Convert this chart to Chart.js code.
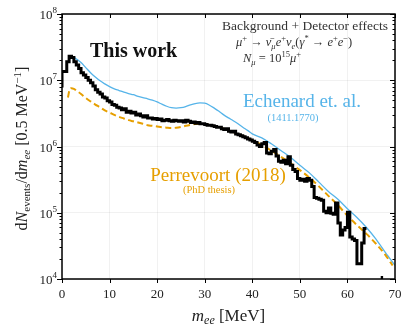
<!DOCTYPE html>
<html>
<head>
<meta charset="utf-8">
<script src="https://cdn.jsdelivr.net/npm/chart.js@4"></script>
<style>
  html, body { margin: 0; padding: 0; background: #fff; }
  #wrap { width: 412px; height: 333px; }
</style>
</head>
<body>
<div id="wrap"><canvas id="chart" width="412" height="333"></canvas></div>
<script>
// m_ee spectrum, dN/dm_ee per 0.5 MeV bin
const binWidth = 0.5;
const binStart = 0;

// "This work" histogram, one value per 0.5 MeV bin from 0 to 70 MeV
const thisWork = [
  7.8e6, 1.35e7, 1.35e7, 1.9e7, 2.3e7, 2.2e7, 1.9e7, 1.7e7, 1.5e7, 1.3e7,
  1.2e7, 1.1e7, 1.0e7, 9.2e6, 8.2e6, 7.2e6, 6.6e6, 6.2e6, 5.6e6, 5.4e6,
  4.9e6, 4.7e6, 4.3e6, 4.2e6, 3.9e6, 3.8e6, 3.6e6, 3.7e6, 3.3e6, 3.4e6,
  3.2e6, 3.3e6, 3.0e6, 3.1e6, 2.9e6, 2.8e6, 2.9e6, 2.7e6, 2.7e6, 2.6e6,
  2.65e6, 2.55e6, 2.6e6, 2.45e6, 2.5e6, 2.55e6, 2.45e6, 2.4e6, 2.5e6, 2.45e6,
  2.4e6, 2.45e6, 2.35e6, 2.5e6, 2.4e6, 2.3e6, 2.35e6, 2.25e6, 2.3e6, 2.2e6,
  2.2e6, 2.15e6, 2.1e6, 2.1e6, 2.05e6, 2.0e6, 1.95e6, 1.95e6, 1.85e6, 1.8e6,
  1.85e6, 1.7e6, 1.65e6, 1.7e6, 1.55e6, 1.5e6, 1.45e6, 1.4e6, 1.35e6, 1.3e6,
  1.25e6, 1.2e6, 1.15e6, 1.05e6, 1.0e6, 1.1e6, 1.15e6, 8.0e5, 7.8e5, 8.5e5,
  9.0e5, 7.2e5, 6.0e5, 5.8e5, 6.2e5, 5.5e5, 7.0e5, 5.2e5, 4.5e5, 4.2e5,
  3.3e5, 3.1e5, 3.2e5, 3.0e5, 3.3e5, 3.1e5, 2.5e5, 1.7e5, 1.65e5, 1.6e5,
  1.55e5, 1.05e5, 1.0e5, 1.18e5, 9.8e4, 9.5e4, 1.4e5, 7.0e4, 4.6e4, 5.5e4,
  6.0e4, 1.02e5, 4.3e4, 4.0e4, 3.8e4, 1.7e4, 1.7e4, 3.5e4, 5.8e4, 0,
  0, 0, 0, 0, 1.05e4, 1.05e4, 0, 0, 0, 0
];

// Echenard et. al. (1411.1770)
const echenardMass = [2.2, 3, 4, 5, 6, 7, 8, 9, 10, 11, 12, 13, 14, 15, 16, 17, 18, 19, 20,
  21, 22, 23, 24, 25, 26, 27, 28, 29, 30, 31, 32, 33, 34, 35, 36, 37, 38, 39, 40,
  42, 44, 46, 48, 50, 52, 54, 56, 58, 60, 62, 64, 66, 68, 70];
const echenardRate = [2.3e7, 2.1e7, 1.85e7, 1.55e7, 1.3e7, 1.12e7, 9.8e6, 8.8e6, 8.0e6, 7.4e6,
  7.0e6, 6.6e6, 6.3e6, 6.05e6, 5.7e6, 5.45e6, 5.25e6, 5.0e6, 4.7e6,
  4.35e6, 4.05e6, 3.85e6, 3.8e6, 3.85e6, 4.0e6, 4.25e6, 4.45e6, 4.55e6, 4.5e6, 4.2e6,
  3.8e6, 3.4e6, 3.0e6, 2.7e6, 2.45e6, 2.2e6, 1.95e6, 1.75e6, 1.55e6,
  1.35e6, 1.1e6, 8.7e5, 6.9e5, 5.2e5, 4.0e5, 2.9e5, 2.1e5, 1.6e5, 1.15e5, 8.5e4, 6.0e4, 4.0e4, 2.5e4, 1.6e4];

// Perrevoort (2018), PhD thesis
const perrevoortMass = [1.2, 1.25, 1.6, 2.0, 2.5, 3, 4, 5, 6, 7, 8, 9, 10, 11, 12, 13, 14, 15, 16,
  17, 18, 19, 20, 21, 22, 23, 24, 25, 26, 27, 28, 29, 30, 31, 32, 33, 34, 35, 36,
  37, 38, 40, 42, 44, 46, 48, 50, 52, 54, 56, 58, 60, 62, 64, 66, 68, 69.5];
const perrevoortRate = [0, 5.5e6, 7.2e6, 7.6e6, 7.4e6, 7.0e6, 6.2e6, 5.4e6, 4.8e6, 4.3e6, 3.9e6,
  3.5e6, 3.25e6, 3.0e6, 2.8e6, 2.65e6, 2.5e6, 2.4e6, 2.3e6, 2.2e6, 2.1e6, 2.05e6, 2.0e6,
  1.95e6, 1.92e6, 1.9e6, 1.92e6, 1.97e6, 2.05e6, 2.12e6, 2.18e6, 2.2e6, 2.18e6, 2.12e6,
  2.03e6, 1.95e6, 1.85e6, 1.75e6, 1.65e6, 1.55e6, 1.45e6, 1.25e6, 1.05e6, 8.7e5, 7.0e5,
  5.6e5, 4.4e5, 3.4e5, 2.5e5, 1.8e5, 1.3e5, 9.0e4, 6.5e4, 4.8e4, 3.4e4, 2.3e4, 1.6e4];

// axis ticks
const xTicks = [0, 10, 20, 30, 40, 50, 60, 70];
const yTicks = [1e4, 1e5, 1e6, 1e7, 1e8];
const yTickExp = ["4", "5", "6", "7", "8"];

const BLUE = "#56B4E9";
const ORANGE = "#E69F00";
const SERIF = '"Liberation Serif", "DejaVu Serif", serif';

// histogram -> step points at bin edges
const histPoints = [{ x: binStart, y: 0 }];
thisWork.forEach((v, i) => histPoints.push({ x: binStart + i * binWidth, y: v }));
histPoints.push({ x: binStart + thisWork.length * binWidth, y: thisWork[thisWork.length - 1] });

// draw runs of text with different fonts / offsets
function drawRuns(ctx, runs, x, y, align) {
  let w = 0;
  runs.forEach((r) => {
    ctx.font = r.font;
    r.w = ctx.measureText(r.t).width;
    w += r.w;
  });
  let cx = align === "center" ? x - w / 2 : align === "right" ? x - w : x;
  runs.forEach((r) => {
    ctx.font = r.font;
    ctx.fillText(r.t, cx, y + (r.dy || 0));
    cx += r.w;
  });
}

const f = (size, style) => (style ? style + " " : "") + size + "px " + SERIF;

const decorations = {
  id: "decorations",
  afterDraw(chart) {
    const { ctx, chartArea: a, scales } = chart;
    const x = scales.x, y = scales.y;
    ctx.save();
    ctx.strokeStyle = "#000";
    ctx.fillStyle = "#111";
    ctx.lineWidth = 1;
    const seg = (x0, y0, x1, y1) => {
      ctx.beginPath();
      ctx.moveTo(x0, y0);
      ctx.lineTo(x1, y1);
      ctx.stroke();
    };

    // x ticks: outward at bottom, inward at top
    xTicks.forEach((v) => {
      const px = Math.round(x.getPixelForValue(v)) + 0.5;
      seg(px, a.bottom, px, a.bottom + 4);
      seg(px, a.top, px, a.top + 4);
    });
    // y ticks: major and minor, outward left, inward right
    for (let d = 0; d < yTicks.length; d++) {
      const py = Math.round(y.getPixelForValue(yTicks[d])) + 0.5;
      seg(a.left - 5, py, a.left, py);
      seg(a.right, py, a.right - 5, py);
      if (d < yTicks.length - 1) {
        for (let k = 2; k <= 9; k++) {
          const my = Math.round(y.getPixelForValue(yTicks[d] * k)) + 0.5;
          seg(a.left - 2.5, my, a.left, my);
          seg(a.right, my, a.right - 2.5, my);
        }
      }
    }

    // frame
    ctx.lineWidth = 1.5;
    ctx.strokeRect(a.left, a.top, a.right - a.left, a.bottom - a.top);

    // tick labels
    ctx.textBaseline = "alphabetic";
    ctx.fillStyle = "#222";
    xTicks.forEach((v) => {
      drawRuns(ctx, [{ t: String(v), font: f(13) }], x.getPixelForValue(v), 298, "center");
    });
    yTicks.forEach((v, i) => {
      drawRuns(ctx, [
        { t: "10", font: f(13) },
        { t: yTickExp[i], font: f(9), dy: -6 }
      ], 57, y.getPixelForValue(v) + 5, "right");
    });

    // axis titles
    drawRuns(ctx, [
      { t: "m", font: f(17, "italic") },
      { t: "ee", font: f(12, "italic"), dy: 3 },
      { t: " [MeV]", font: f(17) }
    ], (a.left + a.right) / 2, 321, "center");

    ctx.save();
    ctx.translate(27, (a.top + a.bottom) / 2 + 2);
    ctx.rotate(-Math.PI / 2);
    drawRuns(ctx, [
      { t: "d", font: f(16) },
      { t: "N", font: f(16, "italic") },
      { t: "events", font: f(11), dy: 3 },
      { t: "/d", font: f(16) },
      { t: "m", font: f(16, "italic") },
      { t: "ee", font: f(11, "italic"), dy: 3 },
      { t: " [0.5 MeV", font: f(16) },
      { t: "\u22121", font: f(11), dy: -6 },
      { t: "]", font: f(16) }
    ], 0, 0, "center");
    ctx.restore();

    // annotations
    ctx.fillStyle = "#111";
    drawRuns(ctx, [{ t: "This work", font: f(20, "bold") }], 90, 57, "left");

    ctx.fillStyle = "#333";
    drawRuns(ctx, [{ t: "Background + Detector effects", font: f(13.5) }], 388, 30, "right");
    drawRuns(ctx, [
      { t: "\u03bc", font: f(12.5, "italic") },
      { t: "+", font: f(8.5), dy: -5 },
      { t: " \u2192 ", font: f(12.5) },
      { t: "\u03bd\u0304", font: f(12.5, "italic") },
      { t: "\u03bc", font: f(8.5, "italic"), dy: 3 },
      { t: "e", font: f(12.5, "italic") },
      { t: "+", font: f(8.5), dy: -5 },
      { t: "\u03bd", font: f(12.5, "italic") },
      { t: "e", font: f(8.5, "italic"), dy: 3 },
      { t: "(", font: f(12.5) },
      { t: "\u03b3", font: f(12.5, "italic") },
      { t: "*", font: f(8.5), dy: -5 },
      { t: " \u2192 ", font: f(12.5) },
      { t: "e", font: f(12.5, "italic") },
      { t: "+", font: f(8.5), dy: -5 },
      { t: "e", font: f(12.5, "italic") },
      { t: "\u2212", font: f(8.5), dy: -5 },
      { t: ")", font: f(12.5) }
    ], 236, 46, "left");
    drawRuns(ctx, [
      { t: "N", font: f(12.5, "italic") },
      { t: "\u03bc", font: f(8.5, "italic"), dy: 3 },
      { t: " = 10", font: f(12.5) },
      { t: "15", font: f(8.5), dy: -5 },
      { t: "\u03bc", font: f(12.5, "italic") },
      { t: "+", font: f(8.5), dy: -5 }
    ], 243, 62, "left");

    ctx.fillStyle = BLUE;
    drawRuns(ctx, [{ t: "Echenard et. al.", font: f(19) }], 302, 107, "center");
    drawRuns(ctx, [{ t: "(1411.1770)", font: f(10.5) }], 293, 121, "center");

    ctx.fillStyle = ORANGE;
    drawRuns(ctx, [{ t: "Perrevoort (2018)", font: f(19) }], 218, 181, "center");
    drawRuns(ctx, [{ t: "(PhD thesis)", font: f(10.5) }], 209, 193, "center");

    ctx.restore();
  }
};

new Chart(document.getElementById("chart"), {
  type: "line",
  data: {
    datasets: [
      {
        label: "This work",
        data: histPoints,
        stepped: "after",
        borderColor: "#000",
        borderWidth: 3,
        pointRadius: 0,
        fill: false,
        order: 0
      },
      {
        label: "Echenard et. al.",
        data: echenardMass.map((m, i) => ({ x: m, y: echenardRate[i] })),
        borderColor: BLUE,
        borderWidth: 1.3,
        pointRadius: 0,
        cubicInterpolationMode: "monotone",
        fill: false,
        order: 2
      },
      {
        label: "Perrevoort (2018)",
        data: perrevoortMass.map((m, i) => ({ x: m, y: perrevoortRate[i] })),
        borderColor: ORANGE,
        borderWidth: 2,
        borderDash: [6, 3.5],
        pointRadius: 0,
        cubicInterpolationMode: "monotone",
        fill: false,
        order: 1
      }
    ]
  },
  options: {
    responsive: false,
    animation: false,
    events: [],
    layout: { padding: { left: 62, right: 17, top: 14, bottom: 54 } },
    plugins: {
      legend: { display: false },
      tooltip: { enabled: false }
    },
    scales: {
      x: {
        type: "linear",
        min: 0,
        max: 70,
        ticks: { display: false },
        border: { display: false },
        grid: { color: "rgba(0,0,0,0.07)", lineWidth: 0.8, drawTicks: false },
        afterBuildTicks: (s) => { s.ticks = xTicks.map((v) => ({ value: v })); }
      },
      y: {
        type: "logarithmic",
        min: 1e4,
        max: 1e8,
        ticks: { display: false },
        border: { display: false },
        grid: { color: "rgba(0,0,0,0.07)", lineWidth: 0.8, drawTicks: false },
        afterBuildTicks: (s) => { s.ticks = yTicks.map((v) => ({ value: v })); }
      }
    }
  },
  plugins: [decorations]
});
</script>
</body>
</html>
